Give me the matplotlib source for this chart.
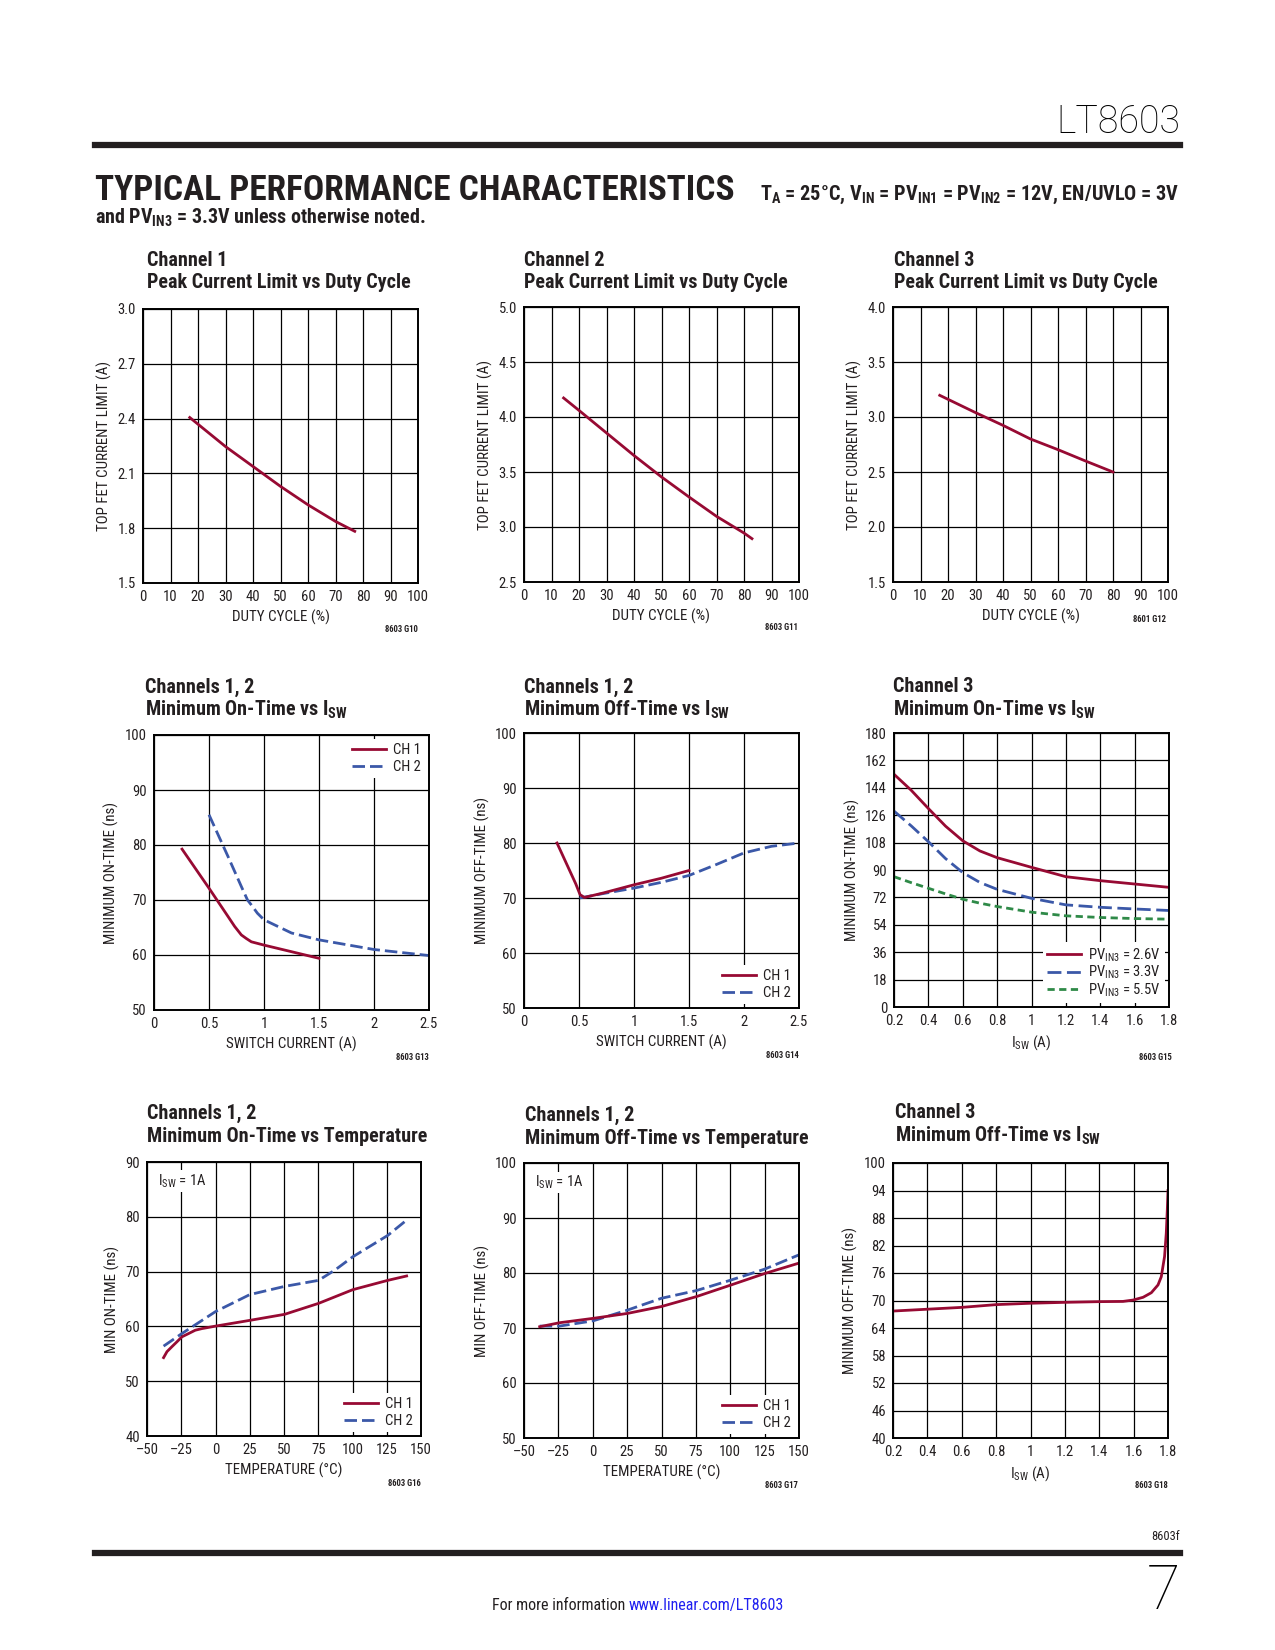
import numpy as np
import matplotlib
matplotlib.use("Agg")
import matplotlib.pyplot as plt
from matplotlib import font_manager
from matplotlib.lines import Line2D

# ---- data ----
# G10 channel 1 peak current limit vs duty cycle
g10_duty = [17, 30, 40, 50, 60, 70, 77]
g10_ilim = [2.406, 2.247, 2.138, 2.029, 1.928, 1.837, 1.783]
# G11 channel 2
g11_duty = [14.4, 20, 30, 40, 50, 60, 70, 80, 82.9]
g11_ilim = [4.173, 4.06, 3.855, 3.65, 3.455, 3.273, 3.097, 2.945, 2.894]
# G12 channel 3
g12_duty = [17, 30, 40, 50, 60, 70, 80]
g12_ilim = [3.197, 3.04, 2.924, 2.80, 2.703, 2.60, 2.50]

# G13 min on-time vs Isw (ch1, ch2)
g13_i1 = [0.255, 0.5, 0.673, 0.733, 0.794, 0.839, 0.885, 1.0, 1.25, 1.5]
g13_t1 = [79.25, 72.15, 67.0, 65.2, 63.65, 63.0, 62.4, 61.8, 60.6, 59.4]
g13_i2 = [0.5, 0.673, 0.794, 0.85, 0.885, 0.94, 1.0, 1.25, 1.5, 2.0, 2.5]
g13_t2 = [85.5, 77.9, 72.45, 70.0, 69.1, 67.6, 66.4, 64.0, 62.75, 61.0, 59.9]

# G14 min off-time vs Isw
g14_i1 = [0.3, 0.47, 0.51, 0.55, 0.718, 1.0, 1.25, 1.5]
g14_t1 = [80.0, 72.6, 70.6, 70.1, 70.9, 72.4, 73.6, 75.0]
g14_i2 = [0.506, 0.718, 1.0, 1.25, 1.5, 1.75, 2.0, 2.25, 2.5]
g14_t2 = [70.0, 70.8, 71.8, 72.85, 74.1, 76.1, 78.2, 79.4, 80.0]

# G15 channel 3 min on-time vs Isw, three PVIN3 values
g15_isw = [0.2, 0.3, 0.4, 0.5, 0.6, 0.7, 0.8, 1.0, 1.2, 1.4, 1.6, 1.8]
g15_26v = [152.9, 142.4, 130.4, 118.8, 109.2, 102.5, 98.1, 91.75, 85.6, 83.0, 80.8, 78.6]
g15_33v = [128.7, 119.0, 108.6, 97.5, 88.3, 81.8, 77.3, 71.4, 67.1, 65.5, 64.4, 63.4]
g15_55v = [85.6, 81.7, 78.0, 74.3, 70.8, 68.2, 66.0, 62.3, 59.9, 58.8, 58.1, 57.7]

# G16 min on-time vs temperature
g16_temp1 = [-37.9, -35.4, -31.8, -28.1, -24.5, -19.6, -14.8, -9.9, 0, 25, 50.4,
             75.2, 100.2, 125.7, 139.5]
g16_ch1 = [54.3, 55.4, 56.3, 57.2, 58.1, 58.7, 59.3, 59.6, 60.05, 61.1, 62.2,
           64.2, 66.7, 68.4, 69.2]
g16_temp2 = [-37.9, -24.5, 0, 25, 50.4, 75.2, 87.3, 100.2, 125.7, 139.5]
g16_ch2 = [56.4, 58.7, 62.7, 65.8, 67.3, 68.4, 70.3, 72.7, 76.6, 79.4]

# G17 min off-time vs temperature
g17_temp = [-38.6, -24.1, 0.2, 25.2, 49.9, 75.3, 100.3, 125, 150]
g17_ch1 = [70.23, 70.96, 71.75, 72.65, 73.9, 75.7, 77.8, 79.9, 81.8]
g17_ch2 = [70.35, 70.35, 71.3, 73.25, 75.4, 76.8, 78.7, 80.7, 83.3]

# G18 channel 3 min off-time vs Isw
g18_isw = [0.2, 0.4, 0.6, 0.8, 1.0, 1.2, 1.4, 1.538, 1.597, 1.655, 1.703,
           1.742, 1.761, 1.78, 1.79, 1.796, 1.8]
g18_toff = [67.7, 68.1, 68.5, 69.1, 69.4, 69.6, 69.75, 69.8, 70.1, 70.7, 71.7,
            73.4, 75.2, 79.6, 84.7, 89.8, 94.0]

RED = '#970a33'
BLUE = '#3b58a8'
GREEN = '#2f8a48'
INK = '#231f20'


def pick_font(names):
    for n in names:
        try:
            font_manager.findfont(font_manager.FontProperties(family=n),
                                  fallback_to_default=False)
            return n
        except Exception:
            pass
    return 'DejaVu Sans'


FONT = pick_font(['Liberation Sans Narrow', 'Roboto Condensed', 'Liberation Sans'])
THIN = pick_font(['Roboto', 'Lato', 'Liberation Sans'])
plt.rcParams['font.family'] = [FONT, 'DejaVu Sans']
plt.rcParams['mathtext.fontset'] = 'custom'
plt.rcParams['mathtext.rm'] = FONT
plt.rcParams['mathtext.it'] = FONT + ':italic'
plt.rcParams['mathtext.bf'] = FONT + ':bold'
plt.rcParams['text.color'] = INK
plt.rcParams['axes.labelcolor'] = INK
plt.rcParams['xtick.color'] = INK
plt.rcParams['ytick.color'] = INK

W, H = 1275, 1650
fig = plt.figure(figsize=(W / 100, H / 100), dpi=100)


def T(x, y, s, **kw):
    return fig.text(x / W, 1 - y / H, s, **kw)


def add_ax(x0, y0, x1, y1):
    return fig.add_axes([x0 / W, 1 - y1 / H, (x1 - x0) / W, (y1 - y0) / H])


def style(ax, xlim, xt, xl, ylim, yt, yl, xlabel, ylabel):
    ax.set_xlim(xlim)
    ax.set_ylim(ylim)
    ax.set_xticks(xt)
    ax.set_xticklabels(xl)
    ax.set_yticks(yt)
    ax.set_yticklabels(yl)
    ax.grid(True, color='black', lw=0.9)
    ax.set_axisbelow(True)
    ax.tick_params(length=0, labelsize=10.5, pad=5)
    for s in ax.spines.values():
        s.set_linewidth(1.4)
        s.set_color('black')
    ax.set_xlabel(xlabel, fontsize=10.8, labelpad=4)
    ax.set_ylabel(ylabel, fontsize=10.8, labelpad=4)


def title(x, y, l1, l2):
    T(x, y, l1, fontsize=14.5, fontweight='bold', va='center', ha='left')
    T(x, y + 23, l2, fontsize=14.5, fontweight='bold', va='center', ha='left')


def legend(ax, handles, labels, loc, spacing=0.2):
    lg = ax.legend(handles, labels, loc=loc, fontsize=10.5, handlelength=2.3,
                   handletextpad=0.5, labelspacing=spacing, borderpad=0.3,
                   borderaxespad=0.25, frameon=True, fancybox=False)
    lg.get_frame().set_facecolor('white')
    lg.get_frame().set_edgecolor('none')
    lg.get_frame().set_alpha(1)
    lg.set_zorder(5)


def note(ax, s):
    ax.text(0.04, 0.93, s, transform=ax.transAxes, fontsize=10.5, va='center',
            ha='left', bbox=dict(facecolor='white', edgecolor='none', pad=1.5),
            zorder=5)


def code(x, y, s):
    T(x, y, s, fontsize=6.2, fontweight='bold', ha='right', va='center')


duty_t = list(range(0, 101, 10))
duty_l = [str(v) for v in duty_t]
isw_t = [0, 0.5, 1, 1.5, 2, 2.5]
isw_l = ['0', '0.5', '1', '1.5', '2', '2.5']
i3_t = [0.2, 0.4, 0.6, 0.8, 1.0, 1.2, 1.4, 1.6, 1.8]
i3_l = ['0.2', '0.4', '0.6', '0.8', '1', '1.2', '1.4', '1.6', '1.8']
temp_t = [-50, -25, 0, 25, 50, 75, 100, 125, 150]
temp_l = [('\u2013' + str(-v)) if v < 0 else str(v) for v in temp_t]

ch1 = Line2D([], [], color=RED, lw=2)
ch2 = Line2D([], [], color=BLUE, lw=2, dashes=(4.5, 1.8))

# ---- row 1 ----
ax = add_ax(143, 309, 418, 583)
style(ax, (0, 100), duty_t, duty_l, (1.5, 3.0), np.arange(1.5, 3.01, 0.3),
      ['%.1f' % v for v in np.arange(1.5, 3.01, 0.3)], 'DUTY CYCLE (%)',
      'TOP FET CURRENT LIMIT (A)')
ax.plot(g10_duty, g10_ilim, color=RED, lw=2)
title(147, 260, 'Channel 1', 'Peak Current Limit vs Duty Cycle')
code(418, 630, '8603 G10')

ax = add_ax(524, 307, 799, 582)
style(ax, (0, 100), duty_t, duty_l, (2.5, 5.0), np.arange(2.5, 5.01, 0.5),
      ['%.1f' % v for v in np.arange(2.5, 5.01, 0.5)], 'DUTY CYCLE (%)',
      'TOP FET CURRENT LIMIT (A)')
ax.plot(g11_duty, g11_ilim, color=RED, lw=2)
title(524, 260, 'Channel 2', 'Peak Current Limit vs Duty Cycle')
code(798, 628, '8603 G11')

ax = add_ax(893, 307, 1168, 582)
style(ax, (0, 100), duty_t, duty_l, (1.5, 4.0), np.arange(1.5, 4.01, 0.5),
      ['%.1f' % v for v in np.arange(1.5, 4.01, 0.5)], 'DUTY CYCLE (%)',
      'TOP FET CURRENT LIMIT (A)')
ax.plot(g12_duty, g12_ilim, color=RED, lw=2)
title(894, 260, 'Channel 3', 'Peak Current Limit vs Duty Cycle')
code(1166, 619, '8601 G12')

# ---- row 2 ----
ax = add_ax(154, 735, 429, 1010)
style(ax, (0, 2.5), isw_t, isw_l, (50, 100), range(50, 101, 10),
      [str(v) for v in range(50, 101, 10)], 'SWITCH CURRENT (A)',
      'MINIMUM ON-TIME (ns)')
ax.plot(g13_i1, g13_t1, color=RED, lw=2)
ax.plot(g13_i2, g13_t2, color=BLUE, lw=2, dashes=(4.5, 1.8))
legend(ax, [ch1, ch2], ['CH 1', 'CH 2'], 'upper right')
title(145, 687, 'Channels 1, 2', r'Minimum On-Time vs I$_{\mathbf{SW}}$')
code(429, 1058, '8603 G13')

ax = add_ax(524, 733, 799, 1008)
style(ax, (0, 2.5), isw_t, isw_l, (50, 100), range(50, 101, 10),
      [str(v) for v in range(50, 101, 10)], 'SWITCH CURRENT (A)',
      'MINIMUM OFF-TIME (ns)')
ax.plot(g14_i2, g14_t2, color=BLUE, lw=2, dashes=(4.5, 1.8))
ax.plot(g14_i1, g14_t1, color=RED, lw=2)
legend(ax, [ch1, ch2], ['CH 1', 'CH 2'], 'lower right')
title(524, 687, 'Channels 1, 2', r'Minimum Off-Time vs I$_{\mathbf{SW}}$')
code(799, 1056, '8603 G14')

ax = add_ax(894, 733, 1169, 1007)
style(ax, (0.2, 1.8), i3_t, i3_l, (0, 180), range(0, 181, 18),
      [str(v) for v in range(0, 181, 18)], r'I$_{\mathrm{SW}}$ (A)',
      'MINIMUM ON-TIME (ns)')
ax.plot(g15_isw, g15_26v, color=RED, lw=2)
ax.plot(g15_isw, g15_33v, color=BLUE, lw=2, dashes=(5, 2))
ax.plot(g15_isw, g15_55v, color=GREEN, lw=2, dashes=(2.6, 1.6))
legend(ax, [Line2D([], [], color=RED, lw=2),
            Line2D([], [], color=BLUE, lw=2, dashes=(5, 2)),
            Line2D([], [], color=GREEN, lw=2, dashes=(2.6, 1.6))],
       [r'PV$_{\mathrm{IN3}}$ = 2.6V', r'PV$_{\mathrm{IN3}}$ = 3.3V',
        r'PV$_{\mathrm{IN3}}$ = 5.5V'], 'lower right', spacing=0.02)
title(893, 687, 'Channel 3', r'Minimum On-Time vs I$_{\mathbf{SW}}$')
code(1172, 1058, '8603 G15')

# ---- row 3 ----
ax = add_ax(147, 1162, 421, 1436)
style(ax, (-50, 150), temp_t, temp_l, (40, 90), range(40, 91, 10),
      [str(v) for v in range(40, 91, 10)], 'TEMPERATURE (°C)', 'MIN ON-TIME (ns)')
ax.plot(g16_temp1, g16_ch1, color=RED, lw=2)
ax.plot(g16_temp2, g16_ch2, color=BLUE, lw=2, dashes=(4.5, 1.8))
legend(ax, [ch1, ch2], ['CH 1', 'CH 2'], 'lower right')
note(ax, r'I$_{\mathrm{SW}}$ = 1A')
title(147, 1113, 'Channels 1, 2', 'Minimum On-Time vs Temperature')
code(421, 1484, '8603 G16')

ax = add_ax(524, 1163, 799, 1438)
style(ax, (-50, 150), temp_t, temp_l, (50, 100), range(50, 101, 10),
      [str(v) for v in range(50, 101, 10)], 'TEMPERATURE (°C)', 'MIN OFF-TIME (ns)')
ax.plot(g17_temp, g17_ch2, color=BLUE, lw=2, dashes=(4.5, 1.8))
ax.plot(g17_temp, g17_ch1, color=RED, lw=2)
legend(ax, [ch1, ch2], ['CH 1', 'CH 2'], 'lower right')
note(ax, r'I$_{\mathrm{SW}}$ = 1A')
title(525, 1115, 'Channels 1, 2', 'Minimum Off-Time vs Temperature')
code(798, 1486, '8603 G17')

ax = add_ax(893, 1163, 1168, 1438)
style(ax, (0.2, 1.8), i3_t, i3_l, (40, 100), range(40, 101, 6),
      [str(v) for v in range(40, 101, 6)], r'I$_{\mathrm{SW}}$ (A)',
      'MINIMUM OFF-TIME (ns)')
ax.plot(g18_isw, g18_toff, color=RED, lw=2)
title(895, 1113, 'Channel 3', r'Minimum Off-Time vs I$_{\mathbf{SW}}$')
code(1168, 1486, '8603 G18')

# ---- page furniture ----
fig.add_artist(Line2D([95 / W, 1180 / W], [1 - 145 / H, 1 - 145 / H], color=INK, lw=4.5))
fig.add_artist(Line2D([95 / W, 1180 / W], [1 - 1553 / H, 1 - 1553 / H], color=INK, lw=4.5))
T(1180, 133, 'LT8603', fontsize=27, family=THIN, fontweight='light', ha='right',
  va='baseline', color='black')
T(1180, 1609, '7', fontsize=44, family=THIN, fontweight='light', ha='right',
  va='baseline', color='black')
T(1180, 1536, '8603f', fontsize=9, ha='right', va='center')

renderer = fig.canvas.get_renderer()


def fit(t, width):
    w = t.get_window_extent(renderer).width
    t.set_fontsize(t.get_fontsize() * width / w)


head = T(95, 200, 'TYPICAL PERFORMANCE CHARACTERISTICS', fontsize=26,
         fontweight='bold', ha='left', va='baseline')
fit(head, 640)
sub1 = T(1180, 200, r'T$_{\mathbf{A}}$ = 25°C, V$_{\mathbf{IN}}$ = PV$_{\mathbf{IN1}}$'
         r' = PV$_{\mathbf{IN2}}$ = 12V, EN/UVLO = 3V', fontsize=13,
         fontweight='bold', ha='right', va='baseline')
fit(sub1, 418)
sub2 = T(95, 224, r'and PV$_{\mathbf{IN3}}$ = 3.3V unless otherwise noted.',
         fontsize=12, fontweight='bold', ha='left', va='baseline')
fit(sub2, 331)

f1 = T(492, 1610, 'For more information ', fontsize=11.5, ha='left', va='baseline')
w1 = f1.get_window_extent(renderer).width
T(492 + w1, 1610, 'www.linear.com/LT8603', fontsize=11.5, color='#2020f0',
  ha='left', va='baseline')

fig.savefig('out.png', dpi=100)
